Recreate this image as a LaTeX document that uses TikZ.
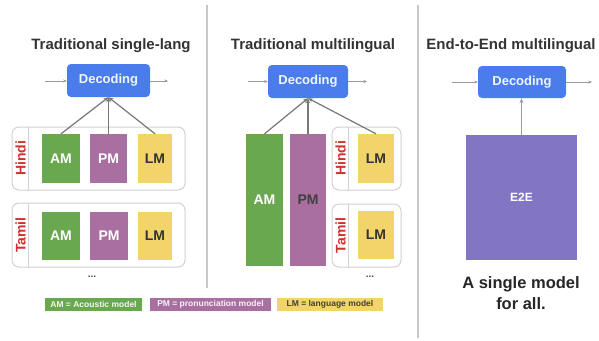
\documentclass[tikz,border=0pt]{standalone}
\usepackage{fontspec}
\setmainfont{Liberation Sans}
\usetikzlibrary{arrows.meta}

\definecolor{amgreen}{HTML}{6AA84F}
\definecolor{pmpurple}{HTML}{A96FA0}
\definecolor{lmyellow}{HTML}{F2D46A}
\definecolor{decblue}{HTML}{4A7DEB}
\definecolor{e2epurple}{HTML}{8276C4}
\definecolor{langred}{HTML}{D0312D}
\definecolor{framegray}{HTML}{D2D2D2}
\definecolor{titlegray}{HTML}{333333}
\definecolor{linkgray}{HTML}{777777}
\definecolor{flowgray}{HTML}{9A9A9A}
\definecolor{sepgray}{HTML}{C8C8C8}

\tikzset{
  fs/.style={font=\bfseries\fontsize{#1}{#1}\selectfont},
  title/.style={fs=15, text=titlegray},
  decode/.style={fill=decblue, rounded corners=4pt, inner sep=0,
    text=white!92!decblue, fs=13},
  model/.style={inner sep=0, fs=14},
  am/.style={model, fill=amgreen, text=white},
  pm/.style={model, fill=pmpurple, text=white},
  pmdark/.style={model, fill=pmpurple, text=black!75},
  lm/.style={model, fill=lmyellow, text=black!80},
  group/.style={draw=framegray, line width=1pt, rounded corners=7pt, inner sep=0},
  lang/.style={rotate=90, text=langred, fs=14},
  link/.style={draw=linkgray, line width=1.2pt, -{Stealth[length=5pt,width=4pt]}},
  flow/.style={draw=flowgray, line width=0.8pt, -{Stealth[length=3.5pt,width=3pt]}},
  sep/.style={draw=sepgray, line width=1.4pt},
  legend/.style={inner sep=0, minimum height=13pt, fs=8.5},
  dots/.style={text=black!70, fs=10}
}

\begin{document}
\begin{tikzpicture}[x=1pt, y=-1pt]
\useasboundingbox (0,0) rectangle (599,340);
\fill[white] (0,0) rectangle (599,340);

% panel separators
\coordinate (s1t) at (207,5);   \coordinate (s1b) at (207,288);
\coordinate (s2t) at (418,5);   \coordinate (s2b) at (418,338);
\draw[sep] (s1t) -- (s1b);
\draw[sep] (s2t) -- (s2b);

% ---------- traditional single-language ----------
\node[title] (t1) at (111,46) {Traditional single-lang};
\node[decode, minimum width=83pt, minimum height=33pt] (dec1) at (108.5,80.5) {Decoding};
\coordinate (in1) at (45,81);
\coordinate (out1) at (168,81);
\draw[flow] (in1) -- (dec1.west |- in1);
\draw[flow] (dec1.east |- out1) -- (out1);

\node[group, minimum width=173pt, minimum height=63pt] (hg1) at (98.5,158.5) {};
\draw[draw=framegray, line width=1pt] ([xshift=17pt]hg1.north west) -- ([xshift=17pt]hg1.south west);
\node[lang] (hl1) at (20.5,158.5) {Hindi};
\node[am, minimum width=38pt, minimum height=49pt] (am1) at (61,158.5) {AM};
\node[pm, minimum width=37pt, minimum height=49pt] (pm1) at (108.5,158.5) {PM};
\node[lm, minimum width=34pt, minimum height=49pt] (lm1) at (155,158.5) {LM};

\node[group, minimum width=173pt, minimum height=64pt] (tg1) at (98.5,235) {};
\draw[draw=framegray, line width=1pt] ([xshift=17pt]tg1.north west) -- ([xshift=17pt]tg1.south west);
\node[lang] (tl1) at (20.5,235) {Tamil};
\node[am, minimum width=38pt, minimum height=48pt] (am2) at (61,236) {AM};
\node[pm, minimum width=38pt, minimum height=48pt] (pm2) at (109,236) {PM};
\node[lm, minimum width=34pt, minimum height=48pt] (lm2) at (155,236) {LM};
\node[dots] (d1) at (92,277) {...};

\draw[link] (am1.north) -- (dec1.south);
\draw[link] (pm1.north) -- (dec1.south);
\draw[link] (lm1.north) -- (dec1.south);

% ---------- traditional multilingual ----------
\node[title] (t2) at (313,46) {Traditional multilingual};
\node[decode, minimum width=80pt, minimum height=33pt] (dec2) at (308,81.5) {Decoding};
\coordinate (in2) at (248,81.5);
\coordinate (out2) at (367,81.5);
\draw[flow] (in2) -- (dec2.west |- in2);
\draw[flow] (dec2.east |- out2) -- (out2);

\node[am, minimum width=37pt, minimum height=132pt] (am3) at (264.5,200) {AM};
\node[pmdark, minimum width=36pt, minimum height=132pt] (pm3) at (308,200) {PM};

\node[group, minimum width=69pt, minimum height=63pt] (hg3) at (366.5,158.5) {};
\draw[draw=framegray, line width=1pt] ([xshift=17pt]hg3.north west) -- ([xshift=17pt]hg3.south west);
\node[lang] (hl3) at (340.5,158.5) {Hindi};
\node[lm, minimum width=36pt, minimum height=49pt] (lm3) at (376,158.5) {LM};

\node[group, minimum width=69pt, minimum height=63pt] (tg3) at (366.5,235.5) {};
\draw[draw=framegray, line width=1pt] ([xshift=17pt]tg3.north west) -- ([xshift=17pt]tg3.south west);
\node[lang] (tl3) at (340.5,235.5) {Tamil};
\node[lm, minimum width=36pt, minimum height=48pt] (lm4) at (376,235) {LM};
\node[dots] (d2) at (370,277) {...};

\draw[link] (am3.north) -- (dec2.south);
\draw[link] (pm3.north) -- (dec2.south);
\draw[link] (lm3.north) -- (dec2.south);

% ---------- end-to-end multilingual ----------
\node[title] (t3) at (511,46) {End-to-End multilingual};
\node[decode, minimum width=88pt, minimum height=32pt] (dec3) at (522,82) {Decoding};
\coordinate (in3) at (452,82);
\coordinate (out3) at (592,82);
\draw[flow] (in3) -- (dec3.west |- in3);
\draw[flow] (dec3.east |- out3) -- (out3);

\node[model, fill=e2epurple, text=white, fs=12, minimum width=111pt, minimum height=125pt] (e2e) at (521.5,197.5) {E2E};
\draw[link, draw=flowgray, line width=1pt] (e2e.north) -- (e2e.north |- dec3.south);

\node[fs=16.5, text=black!85, align=center] (cap) at (521,293)
  {A single model\\[4pt]for all.};

% ---------- legend ----------
\node[legend, fill=amgreen, text=white!92!amgreen, minimum width=97pt] (lg1) at (93.5,304.5) {AM = Acoustic model};
\node[legend, fill=pmpurple, text=white!92!pmpurple, minimum width=121pt] (lg2) at (210.5,304.5) {PM = pronunciation model};
\node[legend, fill=lmyellow, text=black!75, minimum width=106pt] (lg3) at (330,304.5) {LM = language model};
\end{tikzpicture}
\end{document}
